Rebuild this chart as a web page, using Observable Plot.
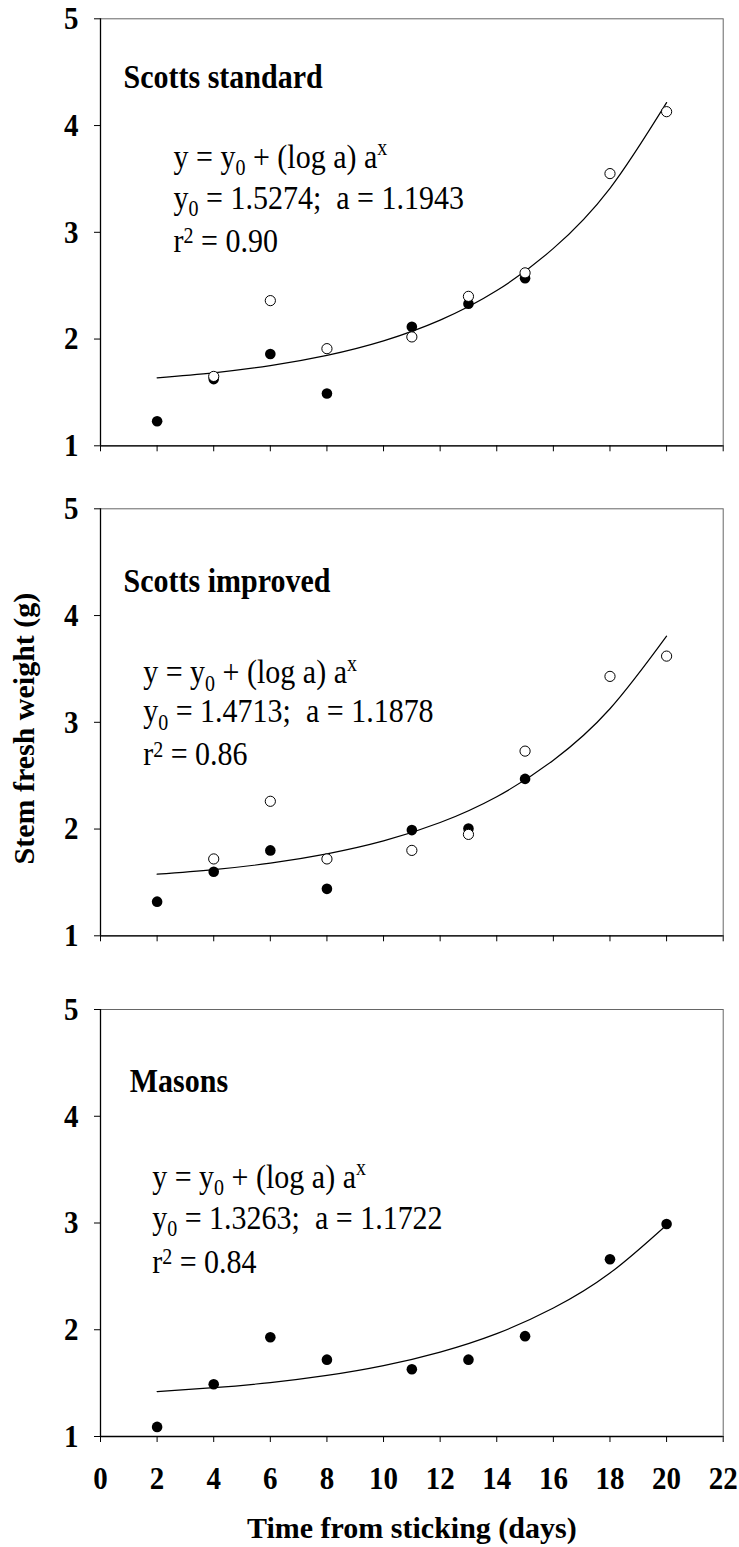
<!DOCTYPE html>
<html>
<head>
<meta charset="utf-8">
<script src="https://cdn.jsdelivr.net/npm/d3@7"></script>
<script src="https://cdn.jsdelivr.net/npm/@observablehq/plot@0.6"></script>
<style>
html, body { margin: 0; padding: 0; background: #fff; }
#chart { position: relative; width: 739px; height: 1547px; overflow: hidden; background: #fff; }
#chart svg { position: absolute; left: 0; overflow: visible; }
#chart svg text { white-space: pre; }
</style>
</head>
<body>
<div id="chart"></div>
<script>
// ---- data ----
const days = [2, 4, 6, 8, 11, 13, 15, 18, 20];
const standardFilled = [1.23, 1.625, 1.86, 1.49, 2.115, 2.33, 2.57, null, null];
const standardOpen   = [null, 1.65, 2.36, 1.91, 2.02, 2.40, 2.62, 3.55, 4.13];
const improvedFilled = [1.32, 1.60, 1.80, 1.44, 1.99, 2.005, 2.47, null, null];
const improvedOpen   = [null, 1.72, 2.26, 1.72, 1.80, 1.95, 2.73, 3.43, 3.62];
const masonsFilled   = [1.09, 1.49, 1.93, 1.72, 1.63, 1.72, 1.94, 2.66, 2.99];
const masonsOpen     = [null, null, null, null, null, null, null, null, null];

// fitted curves, values
const fitDays     = [2, 4, 6, 8, 10, 12, 14, 16, 18, 20];
const standardFit = [1.637, 1.684, 1.751, 1.847, 1.983, 2.177, 2.454, 2.849, 3.412, 4.215];
const improvedFit = [1.577, 1.620, 1.681, 1.768, 1.889, 2.061, 2.303, 2.645, 3.127, 3.807];
const masonsFit   = [1.421, 1.457, 1.505, 1.572, 1.664, 1.791, 1.964, 2.203, 2.531, 2.982];

const panelTitles = ["Scotts standard", "Scotts improved", "Masons"];
const fitY0 = ["1.5274", "1.4713", "1.3263"];
const fitA  = ["1.1943", "1.1878", "1.1722"];
const fitR2 = ["0.90", "0.86", "0.84"];

const xTicks = [0, 2, 4, 6, 8, 10, 12, 14, 16, 18, 20, 22];
const yTicks = [1, 2, 3, 4, 5];
const xTitle = "Time from sticking (days)";
const yTitle = "Stem fresh weight (g)";

// ---- layout ----
const FONT = "'Liberation Serif', 'Times New Roman', Times, serif";
const PANEL_H = 427;
const STRETCH = 1.12; // the reference's glyphs are taller than they are wide
const layouts = [
  {svgTop: 0,   mt: 18.3, mb: 24.7, tx: 23,   ty: 69,   ex: 73,   ey: [148.7, 189.7, 232.7]},
  {svgTop: 480, mt: 28.3, mb: 25,   tx: 23,   ty: 83.4, ex: 42.7, ey: [174.7, 213.7, 256.7]},
  {svgTop: 980, mt: 29,   mb: 111,  tx: 29.3, ty: 82.7, ex: 51.7, ey: [178, 219, 263]}
];

function richify(svg) {
  d3.select(svg).selectAll("text").each(function () {
    const t = this.textContent;
    if (t !== xTitle && t !== yTitle) {
      const tr = this.getAttribute("transform");
      if (tr && !/rotate/.test(tr)) this.setAttribute("transform", `${tr} scale(1,${STRETCH})`);
    }
    if (!/[_^]/.test(t)) return;
    const el = d3.select(this);
    el.text(null);
    const re = /([_^])(.)/g;
    let last = 0, m, reset = 0;
    const plain = (s) => {
      if (!s) return;
      const ts = el.append("tspan").text(s);
      if (reset) { ts.attr("dy", reset); reset = 0; }
    };
    while ((m = re.exec(t))) {
      plain(t.slice(last, m.index));
      const shift = m[1] === "_" ? 6.3 : (/\d/.test(m[2]) ? -8 : -11.5);
      el.append("tspan").attr("dy", shift + reset).attr("font-size", 20).text(m[2]);
      reset = -shift;
      last = re.lastIndex;
    }
    plain(t.slice(last));
  });
}

function panel(i, filled, open, fit) {
  const L = layouts[i];
  const last = i === 2;
  const pts = days.map((d, j) => ({day: d, filled: filled[j], open: open[j]}));
  const fitRows = fitDays.map((d, j) => ({day: d, y: fit[j]}));
  const eqLines = [
    "y = y_0 + (log a) a^x",
    `y_0 = ${fitY0[i]};  a = ${fitA[i]}`,
    `r^2 = ${fitR2[i]}`
  ];
  const marks = [
    Plot.frame({stroke: "#666", strokeWidth: 1}),
    Plot.axisX({ticks: xTicks, tickSize: 6, tickFormat: () => "", label: null}),
    Plot.axisY({ticks: yTicks, tickSize: 6, tickFormat: () => "", label: null}),
    Plot.text(yTicks, {y: (d) => d, frameAnchor: "left", dx: -22, textAnchor: "end",
      lineAnchor: "middle", fontSize: 29, fontWeight: "bold", text: (d) => String(d)}),
    Plot.ruleX([0], {stroke: "#000", strokeWidth: 1.3}),
    Plot.ruleY([1], {stroke: "#000", strokeWidth: 1.3}),
    Plot.line(fitRows, {x: "day", y: "y", curve: "natural", stroke: "#000", strokeWidth: 1.2}),
    Plot.dot(pts.filter((p) => p.filled != null), {x: "day", y: "filled", r: 5.3, fill: "#000"}),
    Plot.dot(pts.filter((p) => p.open != null), {x: "day", y: "open", r: 5.1, fill: "#fff", stroke: "#000", strokeWidth: 1}),
    Plot.text([panelTitles[i]], {frameAnchor: "top-left", dx: L.tx, dy: L.ty, lineAnchor: "bottom",
      textAnchor: "start", fontSize: 30, fontWeight: "bold"}),
    ...eqLines.map((s, k) => Plot.text([s], {frameAnchor: "top-left", dx: L.ex, dy: L.ey[k],
      lineAnchor: "bottom", textAnchor: "start", fontSize: 30, fontWeight: "normal"}))
  ];
  if (i === 1) {
    marks.push(Plot.text([yTitle], {frameAnchor: "left", dx: -67, dy: 6.3, rotate: -90,
      textAnchor: "middle", lineAnchor: "bottom", fontSize: 30, fontWeight: "bold"}));
  }
  if (last) {
    marks.push(Plot.text(xTicks, {x: (d) => d, frameAnchor: "bottom", dy: 29, lineAnchor: "top",
      textAnchor: "middle", fontSize: 29, fontWeight: "bold", text: (d) => String(d)}));
    marks.push(Plot.text([xTitle], {frameAnchor: "bottom", dy: 101, lineAnchor: "bottom",
      textAnchor: "middle", fontSize: 30, fontWeight: "bold"}));
  }
  const svg = Plot.plot({
    width: 739,
    height: L.mt + PANEL_H + L.mb,
    marginLeft: 100,
    marginRight: 16.3,
    marginTop: L.mt,
    marginBottom: L.mb,
    x: {domain: [0, 22], label: null},
    y: {domain: [1, 5], label: null},
    style: {fontFamily: FONT, fontSize: "26px", color: "#000", background: "transparent", overflow: "visible"},
    marks
  });
  richify(svg);
  svg.style.top = L.svgTop + "px";
  document.getElementById("chart").appendChild(svg);
}

panel(0, standardFilled, standardOpen, standardFit);
panel(1, improvedFilled, improvedOpen, improvedFit);
panel(2, masonsFilled, masonsOpen, masonsFit);
</script>
</body>
</html>
